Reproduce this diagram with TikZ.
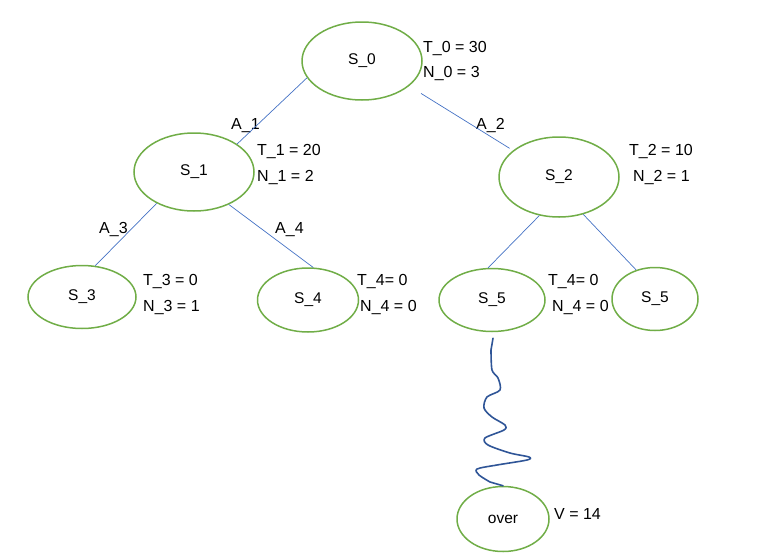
\documentclass[tikz,border=0pt]{standalone}
\usepackage{fontspec}
\setmainfont{Liberation Sans}
\usetikzlibrary{shapes.geometric}
\definecolor{stategreen}{HTML}{70AD47}
\definecolor{edgeblue}{HTML}{4472C4}
\definecolor{waveblue}{HTML}{2F5597}
\begin{document}
\begin{tikzpicture}[x=1pt,y=-1pt,
  state/.style={ellipse,draw=stategreen,line width=1.5pt,inner sep=0pt,font=\fontsize{15.5}{18}\selectfont},
  edge/.style={draw=edgeblue,line width=0.7pt},
  info/.style={anchor=base west,inner sep=0pt,font=\fontsize{16}{19}\selectfont},
  wave/.style={draw=waveblue,line width=1.6pt,line cap=round,line join=round}]
  \useasboundingbox (0,0) rectangle (760,557);
  % states
  \node[state,minimum width=120pt,minimum height=78pt] (s0) at (362,61) {S\_0};
  \node[state,minimum width=120pt,minimum height=78pt] (s1) at (194,172) {S\_1};
  \node[state,minimum width=120pt,minimum height=80pt] (s2) at (559,177) {S\_2};
  \node[state,minimum width=108pt,minimum height=63pt] (s3) at (82,297) {S\_3};
  \node[state,minimum width=101pt,minimum height=64pt] (s4) at (308,300) {S\_4};
  \node[state,minimum width=106pt,minimum height=63pt] (s5) at (492,300) {S\_5};
  \node[state,minimum width=86pt,minimum height=63pt] (s5r) at (655,299) {S\_5};
  \node[state,minimum width=92pt,minimum height=65pt] (over) at (503,519) {over};
  % values
  \node[info] (t0) at (423,52) {T\_0 = 30};
  \node[info] (n0) at (423,77) {N\_0 = 3};
  \node[info] (a1) at (231,129) {A\_1};
  \node[info] (a2) at (476,129) {A\_2};
  \node[info] (t1) at (257,155) {T\_1 = 20};
  \node[info] (n1) at (257,181) {N\_1 = 2};
  \node[info] (t2) at (629,155) {T\_2 = 10};
  \node[info] (n2) at (633,181) {N\_2 = 1};
  \node[info] (a3) at (99,233) {A\_3};
  \node[info] (a4) at (275,233) {A\_4};
  \node[info] (t3) at (143,285) {T\_3 = 0};
  \node[info] (n3) at (143,311) {N\_3 = 1};
  \node[info] (t4) at (357,285) {T\_4= 0};
  \node[info] (n4) at (360,311) {N\_4 = 0};
  \node[info] (t5) at (548,285) {T\_4= 0};
  \node[info] (n5) at (552,311) {N\_4 = 0};
  \node[info] (v) at (554,519) {V = 14};
  % edges
  \draw[edge] (s0.197) -- (s1.33);
  \draw[edge,shorten <=14pt,shorten >=4pt] (s0.332) -- (s2.150);
  \draw[edge] (s1.220) -- (s3.67);
  \draw[edge] (s1.317) -- (s4.81);
  \draw[edge] (s2.243) -- (s5.97);
  \draw[edge] (s2.303) -- (s5r.123);
  % rollout
  \draw[wave] ([shift={(1pt,-6pt)}]s5.south) -- plot[smooth,tension=0.5] coordinates {
    (491,350) (492,370) (498,378) (500,390) (487,397) (484,408) (492,417)
    (505,425) (504,430) (485,438) (488,445) (510,453) (529,457) (527,460)
    (497,465) (477,469) (479,475) (490,482)} -- (over.north);
\end{tikzpicture}
\end{document}
